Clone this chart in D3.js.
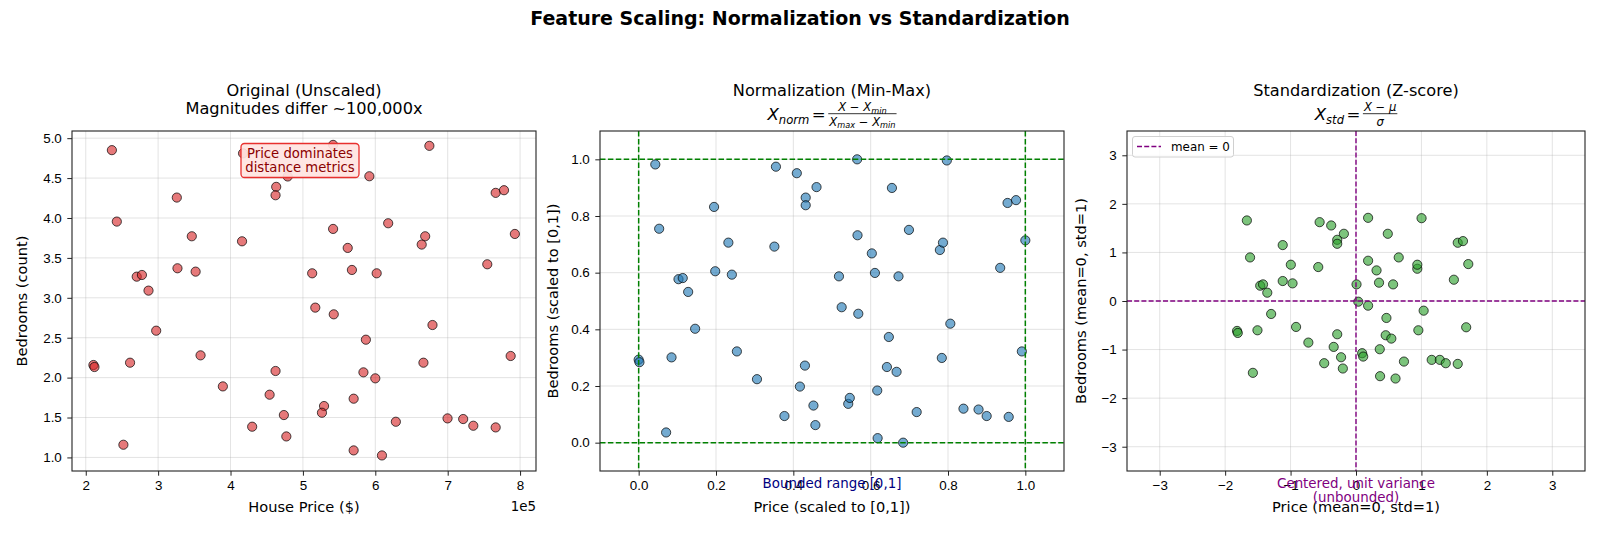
<!DOCTYPE html>
<html>
<head>
<meta charset="utf-8">
<script src="https://cdn.jsdelivr.net/npm/d3@7"></script>
<style>
	body { margin: 0; background: #fff; }
	svg { font-family: "DejaVu Sans", sans-serif; }
	.grid line { stroke: #b0b0b0; stroke-opacity: 0.35; stroke-width: 1; }
	.axis text { font-size: 13.4px; fill: #000; }
	.axis line { stroke: #222; stroke-width: 1; }
	.axis path { display: none; }
	.frame { fill: none; stroke: #222; stroke-width: 1.1; }
</style>
</head>
<body>
<script>
// ---- data ----

// original values (price in $, bedrooms)
var rawPrice = [236100, 242900, 325800, 346500, 415900, 417300, 541700, 479000, 463100, 462200,
	591800, 674700, 766300, 777800, 792800, 754700, 668900, 664100, 617800, 541700,
	561900, 567700, 601900, 512800, 517100, 542600, 679000, 587000, 787000, 666500,
	462200, 583600, 600000, 326700, 351800, 270400, 277600, 286700, 297300, 358600,
	261200, 210600, 212000, 389400, 454000, 570100, 529200, 526300, 473700, 429900,
	477100, 252000, 570100, 609200, 628400, 699800, 721400, 735400, 766300, 448700];
var rawBedrooms = [4.85, 3.955, 4.256, 3.771, 3.708, 4.81, 4.916, 4.52, 4.39, 4.285,
	4.523, 4.904, 4.315, 4.348, 3.80, 3.42, 3.771, 3.667, 3.934, 3.863,
	3.625, 3.349, 3.307, 3.307, 2.877, 2.793, 2.659, 2.475, 2.271, 2.187,
	2.083, 2.066, 1.991, 3.370, 3.328, 3.265, 3.286, 3.09, 2.588, 2.279,
	2.187, 2.158, 2.133, 1.890, 1.786, 1.736, 1.644, 1.560, 1.531, 1.385,
	1.263, 1.159, 1.088, 1.025, 1.447, 1.489, 1.481, 1.397, 1.376, 4.725];

// min-max scaled values
var normPrice = [0.043, 0.000, 0.002, 0.053, 0.071, 0.085, 0.103, 0.114, 0.128, 0.146,
	0.195, 0.198, 0.232, 0.241, 0.254, 0.306, 0.351, 0.355, 0.377, 0.409,
	0.417, 0.430, 0.432, 0.432, 0.452, 0.457, 0.460, 0.518, 0.525, 0.542,
	0.546, 0.565, 0.566, 0.568, 0.603, 0.611, 0.617, 0.618, 0.642, 0.647,
	0.655, 0.667, 0.672, 0.684, 0.699, 0.719, 0.779, 0.784, 0.787, 0.797,
	0.806, 0.840, 0.879, 0.900, 0.935, 0.954, 0.957, 0.976, 0.991, 1.000];
var normBedrooms = [0.982, 0.293, 0.284, 0.755, 0.036, 0.301, 0.577, 0.581, 0.532, 0.402,
	0.832, 0.605, 0.706, 0.593, 0.322, 0.224, 0.692, 0.974, 0.094, 0.951,
	0.198, 0.272, 0.865, 0.838, 0.131, 0.062, 0.902, 0.587, 0.478, 0.137,
	0.158, 1.000, 0.732, 0.455, 0.668, 0.599, 0.184, 0.016, 0.267, 0.373,
	0.899, 0.250, 0.587, 0.000, 0.751, 0.108, 0.680, 0.299, 0.706, 0.996,
	0.420, 0.120, 0.117, 0.094, 0.617, 0.846, 0.091, 0.856, 0.322, 0.714];

// z-score values
var stdPrice = [-1.668, -1.619, -1.818, -1.807, -1.506, -1.576, -1.464, -1.421, -1.356, -1.297,
	-1.120, -1.120, -0.996, -0.970, -0.916, -0.728, -0.577, -0.556, -0.379, -0.341,
	-0.287, -0.287, -0.185, -0.287, -0.228, -0.201, -0.486, 0.008, 0.035, 0.185,
	0.185, 0.185, 0.314, 0.352, 0.363, 0.368, 0.465, 0.486, 0.454, 0.540,
	0.567, 0.604, 0.653, 0.733, 0.937, 0.937, 0.953, 1.002, 1.034, 1.157,
	1.281, 1.372, 1.496, 1.555, 1.555, 1.635, 1.684, 1.716, 0.094, 0.110];
var stdBedrooms = [1.658, 0.897, -0.616, -0.658, -0.603, -1.479, 0.315, 0.342, 0.171, -0.267,
	1.151, 0.411, 0.747, 0.363, -0.534, -0.856, 0.699, 1.623, 1.555, -0.945,
	1.260, 1.178, 1.384, -0.685, -1.158, -1.390, -1.281, 0.342, -0.014, 1.712,
	0.829, -0.096, 0.630, 0.377, -0.993, -1.548, -0.349, 1.384, -0.705, -0.774,
	0.342, -1.596, 0.897, -1.247, 0.664, 0.747, -0.603, 1.705, -0.199, -1.212,
	-1.212, -1.281, 0.438, -1.295, 1.199, 1.233, -0.541, 0.760, -1.075, -1.144];

// tick labels
var priceTicks = [200000, 300000, 400000, 500000, 600000, 700000, 800000];
var bedroomTicks = [1.0, 1.5, 2.0, 2.5, 3.0, 3.5, 4.0, 4.5, 5.0];
var unitTicks = [0.0, 0.2, 0.4, 0.6, 0.8, 1.0];
var zTicks = [-3, -2, -1, 0, 1, 2, 3];

// begin script
setChart();

function setChart(){

	// figure size
	var width = 1600,
		height = 533,
		top = 131,
		bottom = 471;

	var svg = d3.select("body")
		.append("svg")
		.attr("width", width)
		.attr("height", height);

	// figure title
	svg.append("text")
		.attr("x", 800)
		.attr("y", 25)
		.attr("text-anchor", "middle")
		.style("font-size", "19px")
		.style("font-weight", "bold")
		.text("Feature Scaling: Normalization vs Standardization");

	// panel 1: original data
	var p1 = drawPanel(svg, {
		left: 72, right: 536, top: top, bottom: bottom,
		xs: rawPrice, ys: rawBedrooms,
		xDomain: [181000, 822000], yDomain: [0.83, 5.09],
		xTicks: priceTicks, yTicks: bedroomTicks,
		xFormat: function(d){ return d / 1e5; },
		yFormat: d3.format(".1f"),
		fill: "#d62728",
		xLabel: "House Price ($)", yLabel: "Bedrooms (count)", yLabelX: 21
	});

	// panel titles
	svg.append("text").attr("x", 304).attr("y", 95.5).attr("text-anchor", "middle")
		.style("font-size", "16.2px").text("Original (Unscaled)");
	svg.append("text").attr("x", 304).attr("y", 113.5).attr("text-anchor", "middle")
		.style("font-size", "16.2px").text("Magnitudes differ ~100,000x");

	// offset text for the price axis
	svg.append("text").attr("x", 536).attr("y", 511).attr("text-anchor", "end")
		.style("font-size", "13.4px").text("1e5");

	// annotation box
	var note = svg.append("g").attr("transform", "translate(300,0)");
	note.append("rect")
		.attr("x", -59).attr("y", 143.5)
		.attr("width", 118).attr("height", 34)
		.attr("rx", 3.5)
		.attr("fill", "#ffe4e1")
		.attr("fill-opacity", 0.92)
		.attr("stroke", "#e8302e")
		.attr("stroke-width", 1.3);
	note.selectAll("text.note")
		.data(["Price dominates", "distance metrics"])
		.enter()
		.append("text")
		.attr("class", "note")
		.attr("y", function(d, i){ return 157.5 + i * 14; })
		.attr("text-anchor", "middle")
		.style("font-size", "13.2px")
		.style("fill", "#8b0000")
		.text(function(d){ return d; });

	// panel 2: min-max normalization
	var p2 = drawPanel(svg, {
		left: 600, right: 1064, top: top, bottom: bottom,
		xs: normPrice, ys: normBedrooms,
		xDomain: [-0.1, 1.1], yDomain: [-0.1, 1.1],
		xTicks: unitTicks, yTicks: unitTicks,
		xFormat: d3.format(".1f"), yFormat: d3.format(".1f"),
		fill: "#1f77b4",
		xLabel: "Price (scaled to [0,1])", yLabel: "Bedrooms (scaled to [0,1])", yLabelX: 552,
		lines: [0, 1], lineColor: "#008000", lineWidth: 1.5, dash: "5.5,2.4"
	});

	svg.append("text").attr("x", 832).attr("y", 95.5).attr("text-anchor", "middle")
		.style("font-size", "16.2px").text("Normalization (Min-Max)");

	// X_norm = (X - X_min) / (X_max - X_min)
	drawFormula(svg, 832, 120,
		[["X", 16.6, 0, true], ["norm", 11.6, 3.5, true]],
		[["X", 11.6, 0, true], [" \u2212 ", 11.6, 0, false], ["X", 11.6, 0, true], ["min", 8.2, 2.5, true]],
		[["X", 11.6, 0, true], ["max", 8.2, 2.5, true], [" \u2212 ", 11.6, 0, false], ["X", 11.6, 0, true], ["min", 8.2, 2.5, true]]);

	svg.append("text").attr("x", p2.x(0.5)).attr("y", 488).attr("text-anchor", "middle")
		.style("font-size", "13.4px").style("fill", "#000080").text("Bounded range [0,1]");

	// panel 3: z-score standardization
	var p3 = drawPanel(svg, {
		left: 1127, right: 1585, top: top, bottom: bottom,
		xs: stdPrice, ys: stdBedrooms,
		xDomain: [-3.5, 3.5], yDomain: [-3.5, 3.5],
		xTicks: zTicks, yTicks: zTicks,
		xFormat: d3.format("d"), yFormat: d3.format("d"),
		fill: "#2ca02c",
		xLabel: "Price (mean=0, std=1)", yLabel: "Bedrooms (mean=0, std=1)", yLabelX: 1080,
		lines: [0], lineColor: "#800080", lineWidth: 1.4, dash: "5,2.2"
	});

	svg.append("text").attr("x", 1356).attr("y", 95.5).attr("text-anchor", "middle")
		.style("font-size", "16.2px").text("Standardization (Z-score)");

	// X_std = (X - mu) / sigma
	drawFormula(svg, 1356, 120,
		[["X", 16.6, 0, true], ["std", 11.6, 3.5, true]],
		[["X", 11.6, 0, true], [" \u2212 ", 11.6, 0, false], ["\u03bc", 11.6, 0, true]],
		[["\u03c3", 11.6, 0, true]]);

	svg.selectAll("text.zcap")
		.data(["Centered, unit variance", "(unbounded)"])
		.enter()
		.append("text")
		.attr("class", "zcap")
		.attr("x", p3.x(0))
		.attr("y", function(d, i){ return 488 + i * 14; })
		.attr("text-anchor", "middle")
		.style("font-size", "13.4px")
		.style("fill", "#800080")
		.text(function(d){ return d; });

	// legend
	var legend = svg.append("g");
	legend.append("rect")
		.attr("x", 1132.5).attr("y", 136.5)
		.attr("width", 101).attr("height", 20.5)
		.attr("rx", 2.5)
		.attr("fill", "#fff").attr("fill-opacity", 0.8)
		.attr("stroke", "#d0d0d0");
	legend.append("line")
		.attr("x1", 1137).attr("x2", 1161)
		.attr("y1", 146.5).attr("y2", 146.5)
		.attr("stroke", "#800080").attr("stroke-width", 1.4)
		.attr("stroke-dasharray", "5,2.2");
	legend.append("text")
		.attr("x", 1171).attr("y", 150.8)
		.style("font-size", "11.9px")
		.text("mean = 0");
};

// one scatter panel with grid, axes, frame and optional reference lines
function drawPanel(svg, o){

	var x = d3.scaleLinear().domain(o.xDomain).range([o.left, o.right]),
		y = d3.scaleLinear().domain(o.yDomain).range([o.bottom, o.top]);

	var g = svg.append("g");

	// grid
	var grid = g.append("g").attr("class", "grid");
	grid.selectAll(".gx")
		.data(o.xTicks)
		.enter()
		.append("line")
		.attr("x1", function(d){ return x(d); })
		.attr("x2", function(d){ return x(d); })
		.attr("y1", o.top).attr("y2", o.bottom);
	grid.selectAll(".gy")
		.data(o.yTicks)
		.enter()
		.append("line")
		.attr("y1", function(d){ return y(d); })
		.attr("y2", function(d){ return y(d); })
		.attr("x1", o.left).attr("x2", o.right);

	// points
	g.append("g")
		.selectAll("circle")
		.data(o.xs.map(function(v, i){ return [v, o.ys[i]]; }))
		.enter()
		.append("circle")
		.attr("cx", function(d){ return x(d[0]); })
		.attr("cy", function(d){ return y(d[1]); })
		.attr("r", 4.6)
		.attr("fill", o.fill)
		.attr("fill-opacity", 0.62)
		.attr("stroke", "#000")
		.attr("stroke-opacity", 0.7)
		.attr("stroke-width", 1);

	// reference lines
	if (o.lines){
		o.lines.forEach(function(v){
			g.append("line")
				.attr("x1", x(v)).attr("x2", x(v))
				.attr("y1", o.top).attr("y2", o.bottom)
				.attr("stroke", o.lineColor).attr("stroke-width", o.lineWidth)
				.attr("stroke-dasharray", o.dash);
			g.append("line")
				.attr("y1", y(v)).attr("y2", y(v))
				.attr("x1", o.left).attr("x2", o.right)
				.attr("stroke", o.lineColor).attr("stroke-width", o.lineWidth)
				.attr("stroke-dasharray", o.dash);
		});
	}

	// axes
	g.append("g")
		.attr("class", "axis")
		.attr("transform", "translate(0," + o.bottom + ")")
		.call(d3.axisBottom(x).tickValues(o.xTicks).tickSize(4.7).tickPadding(5).tickFormat(o.xFormat));
	g.append("g")
		.attr("class", "axis")
		.attr("transform", "translate(" + o.left + ",0)")
		.call(d3.axisLeft(y).tickValues(o.yTicks).tickSize(4.7).tickPadding(5.5).tickFormat(o.yFormat));

	g.append("rect")
		.attr("class", "frame")
		.attr("x", o.left).attr("y", o.top)
		.attr("width", o.right - o.left)
		.attr("height", o.bottom - o.top);

	// axis labels
	g.append("text")
		.attr("x", (o.left + o.right) / 2)
		.attr("y", 512)
		.attr("text-anchor", "middle")
		.style("font-size", "14.6px")
		.text(o.xLabel);
	g.append("text")
		.attr("transform", "translate(" + o.yLabelX + "," + (o.top + o.bottom) / 2 + ") rotate(-90)")
		.attr("text-anchor", "middle")
		.attr("dominant-baseline", "central")
		.style("font-size", "14.6px")
		.text(o.yLabel);

	return {x: x, y: y};
};

// lay out a run of text pieces; returns its width
function placeRun(g, run, x0, base){
	var cx = x0;
	run.forEach(function(p){
		var t = g.append("text")
			.attr("x", cx)
			.attr("y", base + p[2])
			.style("font-size", p[1] + "px")
			.style("font-style", p[3] ? "italic" : "normal")
			.style("white-space", "pre")
			.attr("xml:space", "preserve")
			.text(p[0]);
		cx += t.node().getComputedTextLength();
	});
	return cx - x0;
};

// lhs = numerator / denominator, centered on cx
function drawFormula(svg, cx, base, lhs, num, den){
	var g = svg.append("g");
	var wl = placeRun(g, lhs, 0, base);
	var eq = g.append("text").attr("x", wl + 2.5).attr("y", base)
		.style("font-size", "16.6px").text("=");
	var fx = wl + 2.5 + eq.node().getComputedTextLength() + 2.5;

	// measure, then place the fraction parts
	var tmp = svg.append("g").attr("opacity", 0);
	var wn = placeRun(tmp, num, 0, 0),
		wd = placeRun(tmp, den, 0, 0);
	tmp.remove();
	var fw = Math.max(wn, wd) + 2;
	placeRun(g, num, fx + (fw - wn) / 2, base - 9);
	placeRun(g, den, fx + (fw - wd) / 2, base + 5.5);
	g.append("line")
		.attr("x1", fx).attr("x2", fx + fw)
		.attr("y1", base - 6.3).attr("y2", base - 6.3)
		.attr("stroke", "#000").attr("stroke-width", 0.8);

	var total = fx + fw;
	g.attr("transform", "translate(" + (cx - total / 2) + ",0)");
};
</script>
</body>
</html>
